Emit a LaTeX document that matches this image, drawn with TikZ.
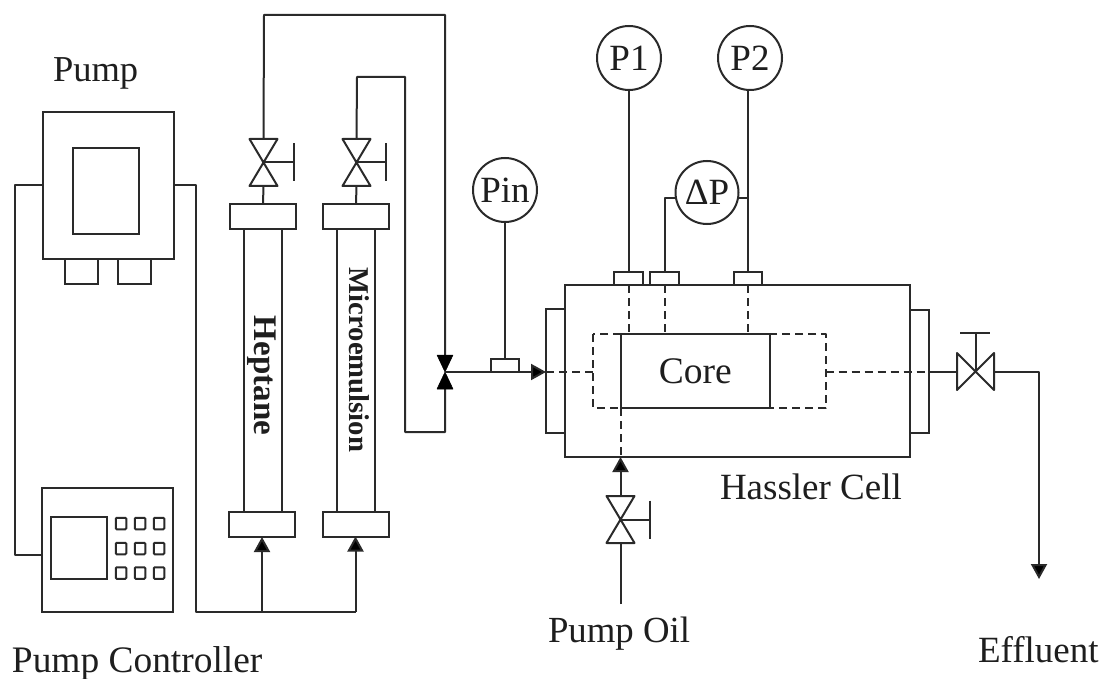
\documentclass[tikz,border=0pt]{standalone}
\usepackage{fontspec}
\setmainfont{Liberation Serif}
\usetikzlibrary{arrows.meta,calc}
\definecolor{ink}{HTML}{2A2A2A}
\definecolor{txt}{HTML}{1E1E1E}
\tikzset{
  pipe/.style={draw=ink,line width=2pt,line join=round},
  dash line/.style={pipe,dash pattern=on 8pt off 5pt},
  flow/.style={pipe,-{Triangle[length=15pt,width=16pt,fill=black]}},
  box/.style={draw=ink,line width=2pt,rectangle,inner sep=0pt,outer sep=0pt},
  gauge/.style={draw=ink,line width=2pt,circle,inner sep=0pt,outer sep=0pt,minimum size=64pt,text=txt,font=\fontsize{37}{37}\selectfont},
  label text/.style={inner sep=0pt,outer sep=0pt,anchor=base west,text=txt,font=\fontsize{37}{37}\selectfont},
  column text/.style={inner sep=0pt,outer sep=0pt,rotate=-90,text=txt},
  valve body/.style={pipe,fill=white},
  solid valve/.style={fill=black,draw=black,line width=.5pt,line join=round}
}
% vertical hand valve: name, x, y, half width, half height, handle x, handle half height
\newcommand{\upvalve}[7]{%
  \coordinate (#1) at (#2,#3);
  \coordinate (#1-t) at (#2,#3-#5);
  \coordinate (#1-b) at (#2,#3+#5);
  \coordinate (#1-h) at (#6,#3);
  \draw[valve body] (#2-#4,#3-#5) -- (#2+#4,#3-#5) -- (#2-#4,#3+#5) -- (#2+#4,#3+#5) -- cycle;
  \draw[pipe] (#1) -- (#1-h);
  \draw[pipe] (#6,#3-#7) -- (#6,#3+#7);
}
\begin{document}
\begin{tikzpicture}[x=1pt,y=-1pt]
\useasboundingbox (0,0) rectangle (1105,679);
\fill[white] (0,0) rectangle (1105,679);

% --- Pump
\node[box,minimum width=131.5pt,minimum height=147pt] (pump) at (108.25,185.5) {};
\node[box,minimum width=66pt,minimum height=86pt] (pumpscreen) at (106,191) {};
\node[box,minimum width=33pt,minimum height=25pt] (foota) at (81.5,271.5) {};
\node[box,minimum width=33.5pt,minimum height=25pt] (footb) at (134.25,271.5) {};
\node[label text,font=\fontsize{36.5}{36.5}\selectfont] (pumplabel) at (53,82) {Pump};

% --- Controller
\node[box,minimum width=131.5pt,minimum height=124pt] (ctrl) at (107.25,550) {};
\node[box,minimum width=56.5pt,minimum height=62pt] (ctrlscreen) at (79,548) {};
\foreach \r/\yy in {a/523.5,b/548.5,c/573}{
  \foreach \c/\xx in {a/121,b/140,c/159}{
    \node[box,minimum width=10.5pt,minimum height=11.5pt,rounded corners=1pt] (key\r\c) at (\xx,\yy) {};
  }
}
\node[label text,font=\fontsize{37.4}{37.4}\selectfont] (ctrllabel) at (12,672) {Pump Controller};

% --- Pump wires
\coordinate (wl1) at (14.5,185);
\coordinate (wl2) at (14.5,555);
\coordinate (wr1) at (196,185);
\coordinate (wr2) at (196,612);
\coordinate (jh) at (262,612);
\coordinate (jm) at (355.5,612);
\draw[pipe] (wl1 -| pump.west) -- (wl1) -- (wl2) -- (wl2 -| ctrl.west);
\draw[pipe] (wr1 -| pump.east) -- (wr1) -- (wr2) -- (jh) -- (jm);

% --- Columns
\node[box,minimum width=38pt,minimum height=283pt] (hbody) at (263,370.5) {};
\node[box,minimum width=38pt,minimum height=283pt] (mbody) at (356,370.5) {};
\node[box,fill=white,minimum width=66pt,minimum height=25pt] (htop) at (263,216.5) {};
\node[box,fill=white,minimum width=66pt,minimum height=25pt] (hbot) at (262,524.5) {};
\node[box,fill=white,minimum width=66pt,minimum height=25pt] (mtop) at (356,216.5) {};
\node[box,fill=white,minimum width=66pt,minimum height=25pt] (mbot) at (355.5,524) {};
\node[column text,font=\bfseries\fontsize{33}{33}\selectfont] (heptane) at (262,375.5) {Heptane};
\node[column text,font=\bfseries\fontsize{28.7}{28.7}\selectfont] (micro) at (359.5,360) {Microemulsion};
\draw[flow] (jh) -- (hbot.south);
\draw[flow] (jm) -- (mbot.south);

% --- Column valves and lines
\upvalve{vh}{263.5}{162.5}{14}{23.5}{294}{19}
\upvalve{vm}{356.5}{162.5}{14}{23.5}{386}{19}
\draw[pipe] (htop.north) -- (vh-b);
\draw[pipe] (mtop.north) -- (vm-b);

% --- Three-way block valve
\coordinate (bv) at (445,372);
\coordinate (bvt) at (445,355);
\coordinate (bvb) at (445,389);
\coordinate (ret) at (445,432);
\coordinate (retl) at (405,432);
\coordinate (h1) at (264,15);
\coordinate (h2) at (445,15);
\coordinate (m1) at (357,77);
\coordinate (m2) at (405,77);
\draw[pipe] (vh-t) -- (h1) -- (h2) -- (bvt);
\draw[pipe] (vm-t) -- (m1) -- (m2) -- (retl) -- (ret) -- (bvb);
\draw[solid valve] (437,355) -- (453,355) -- (bv) -- cycle;
\draw[solid valve] (437,389) -- (453,389) -- (bv) -- cycle;

% --- Hassler cell
\node[box,minimum width=19pt,minimum height=124pt] (flangel) at (555.5,371) {};
\node[box,minimum width=19pt,minimum height=123pt] (flanger) at (919.5,371.5) {};
\node[box,fill=white,minimum width=345pt,minimum height=172pt] (cell) at (737.5,371) {};
\draw[dash line] (593,334) rectangle (825.5,408);
\node[box,fill=white,minimum width=148.5pt,minimum height=74pt,font=\fontsize{37.5}{37.5}\selectfont,text=txt] (core) at (695.25,371) {Core};
\node[label text] (celllabel) at (720,499) {Hassler Cell};

% --- Gauge tabs
\node[box,minimum width=28.5pt,minimum height=13pt] (tabp1) at (628.5,278.5) {};
\node[box,minimum width=28.5pt,minimum height=13pt] (tabdp) at (664.5,278.5) {};
\node[box,minimum width=28.5pt,minimum height=13pt] (tabp2) at (748,278.5) {};
\node[box,minimum width=28.5pt,minimum height=13pt] (tabin) at (505,365.5) {};

% --- Gauges
\node[gauge] (pin) at (505,190) {Pin};
\node[gauge] (p1) at (629,58) {P1};
\node[gauge] (p2) at (750,58) {P2};
\node[gauge,minimum size=63pt] (dp) at (707,192.5) {ΔP};
\draw[pipe] (pin.south) -- (tabin.north);
\draw[pipe] (tabp1.north |- p1.south) -- (tabp1.north);
\draw[pipe] (tabp2.north |- p2.south) -- (tabp2.north);
\coordinate (dpl) at (664.5,198.5);
\coordinate (dpr) at (748,198.5);
\draw[pipe] (tabdp.north) -- (dpl) -- (dpl -| dp.west);
\draw[pipe] (dpr -| dp.east) -- (dpr);

% --- Dashed taps
\draw[dash line] (tabp1.south) -- (tabp1.south |- core.north);
\draw[dash line] (tabdp.south) -- (tabdp.south |- core.north);
\draw[dash line] (tabp2.south) -- (tabp2.south |- core.north);
\coordinate (bottap) at (620.5,408);
\draw[dash line] (bottap) -- (bottap |- cell.south);

% --- Inlet line
\coordinate (inl) at (593,372);
\draw[flow] (bv) -- (bv -| flangel.west);
\draw[dash line] (bv -| flangel.west) -- (inl);

% --- Outlet
\coordinate (outr) at (825.5,372);
\draw[dash line] (outr) -- (outr -| flanger.east);
\coordinate (v3) at (975.5,372);
\coordinate (v3l) at (957,372);
\coordinate (v3r) at (994,372);
\coordinate (v3h) at (975.5,333);
\draw[pipe] (outr -| flanger.east) -- (v3l);
\draw[valve body] (957,353) -- (957,390) -- (994,353) -- (994,390) -- cycle;
\draw[pipe] (v3) -- (v3h);
\draw[pipe] (960,333) -- (990,333);
\coordinate (effa) at (1039,372);
\coordinate (effb) at (1039,579);
\draw[flow] (v3r) -- (effa) -- (effb);
\node[label text] (efflabel) at (978,662) {Effluent};

% --- Pump oil
\coordinate (oil) at (620.5,604);
\upvalve{vo}{620.5}{519.5}{14}{23.5}{650}{19}
\draw[pipe] (oil) -- (vo-b);
\draw[flow] (vo-t) -- (vo-t |- cell.south);
\node[label text,font=\fontsize{36.8}{36.8}\selectfont] (oillabel) at (548,642) {Pump Oil};
\end{tikzpicture}
\end{document}
